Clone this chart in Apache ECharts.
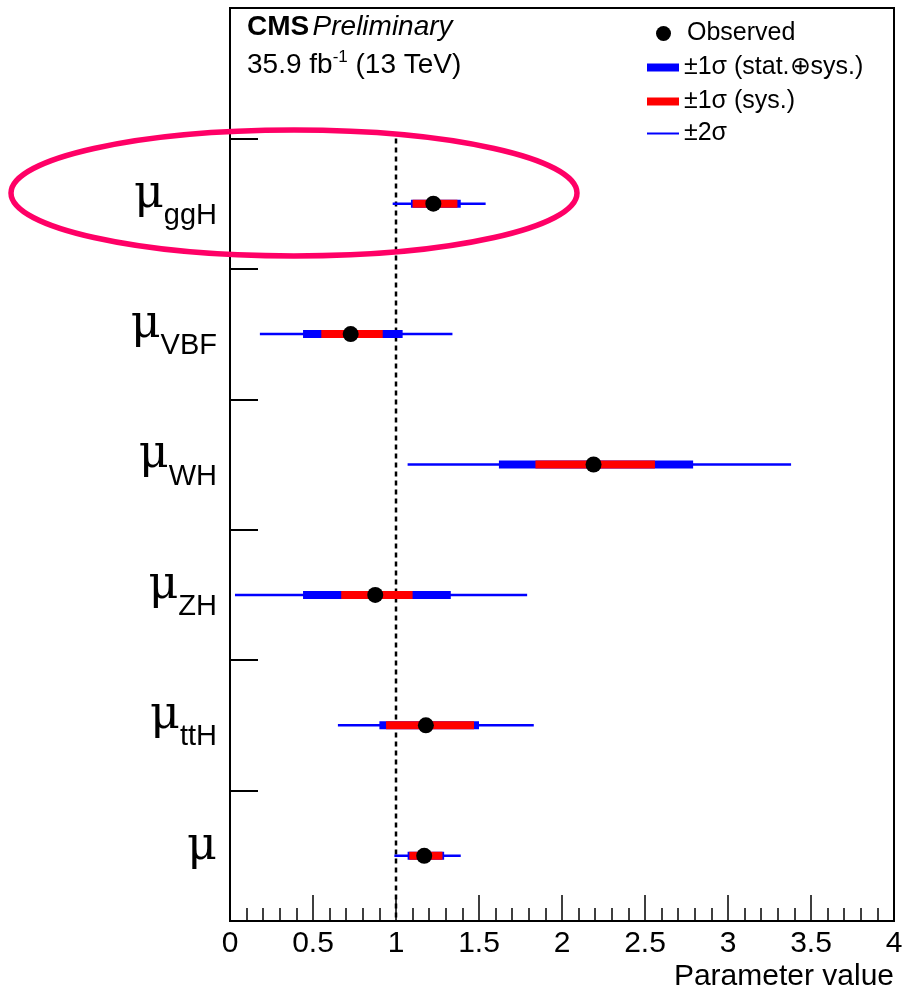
<!DOCTYPE html>
<html><head><meta charset="utf-8">
<script src="https://cdn.jsdelivr.net/npm/echarts@6/dist/echarts.min.js"></script>
<style>html,body{margin:0;padding:0;background:#fff}#c{width:904px;height:996px}</style>
</head><body><div id="c"></div>
<script>
// categories from bottom to top ('_' separates the subscript)
const categories = ['μ', 'μ_ttH', 'μ_ZH', 'μ_WH', 'μ_VBF', 'μ_ggH', ' '];
const observed   = [1.17, 1.18, 0.875, 2.19, 0.727, 1.225];
const sysLow     = [1.08, 0.94, 0.67, 1.84, 0.55, 1.10];
const sysHigh    = [1.28, 1.47, 1.10, 2.56, 0.92, 1.37];
const totLow     = [1.07, 0.90, 0.44, 1.62, 0.44, 1.09];
const totHigh    = [1.29, 1.50, 1.33, 2.79, 1.04, 1.39];
const twoLow     = [0.99, 0.65, 0.03, 1.07, 0.18, 0.98];
const twoHigh    = [1.39, 1.83, 1.79, 3.38, 1.34, 1.54];
const refValue   = 1;
const xTicks     = {min: 0, max: 4, interval: 0.5};

const FONT = 'Liberation Sans';

function bandSeries(name, lows, highs, color, thick) {
  return {
    type: 'custom', name: name,
    itemStyle: {color: color},
    data: lows.map((lo, i) => [lo, highs[i], i]),
    encode: {x: [0, 1], y: 2},
    renderItem: function (params, api) {
      const y = api.value(2);
      const p0 = api.coord([api.value(0), y]);
      const p1 = api.coord([api.value(1), y]);
      return {type: 'rect', shape: {x: p0[0], y: p0[1] - thick / 2, width: p1[0] - p0[0], height: thick},
              style: {fill: color}};
    }
  };
}

const chart = echarts.init(document.getElementById('c'), null, {renderer: 'canvas'});
chart.setOption({
  animation: false,
  backgroundColor: '#fff',
  grid: {left: 230, right: 10, top: 8, bottom: 75, show: true, borderColor: '#000', borderWidth: 2,
         containLabel: false, outerBoundsMode: 'none'},
  xAxis: {
    type: 'value', min: xTicks.min, max: xTicks.max, interval: xTicks.interval,
    axisLine: {show: true, lineStyle: {color: '#000', width: 2}},
    axisTick: {show: true, inside: true, length: 26, lineStyle: {color: '#000', width: 1.5}},
    minorTick: {show: true, splitNumber: 5, length: 13, lineStyle: {color: '#000', width: 1.5}},
    splitLine: {show: false}, minorSplitLine: {show: false},
    axisLabel: {color: '#000', fontSize: 30, fontFamily: FONT, margin: 8, showMinLabel: true, showMaxLabel: true}
  },
  yAxis: {
    type: 'category', data: categories, boundaryGap: true,
    axisLine: {show: true, lineStyle: {color: '#000', width: 2}},
    axisTick: {show: true, inside: true, length: 28, lineStyle: {color: '#000', width: 2}},
    splitLine: {show: false},
    axisLabel: {
      interval: 0, margin: 13, color: '#000',
      formatter: function (v) {
        if (v.trim() === '') return '';
        const parts = v.split('_');
        return parts.length > 1 ? '{mu|' + parts[0] + '}{sub|' + parts[1] + '}' : '{mu|' + parts[0] + '}';
      },
      rich: {
        mu: {fontFamily: 'DejaVu Serif', fontSize: 46, color: '#000', padding: [0, 0, 18, 0]},
        sub: {fontFamily: FONT, fontSize: 29, color: '#000', padding: [24, 0, 0, 0]}
      }
    }
  },
  legend: [
    {data: [{name: 'Observed', icon: 'circle'}], left: 656, top: 21, itemWidth: 15, itemHeight: 15, padding: 0,
     selectedMode: false, textStyle: {fontSize: 25, fontFamily: FONT, color: '#000', padding: [0, 0, 0, 11]}},
    {data: [{name: '±1σ (stat.⊕sys.)', icon: 'rect'}, {name: '±1σ (sys.)', icon: 'rect'}],
     orient: 'vertical', left: 647, top: 55, itemWidth: 32, itemHeight: 8, itemGap: 9, padding: 0,
     selectedMode: false, textStyle: {fontSize: 25, fontFamily: FONT, color: '#000'}},
    {data: [{name: '±2σ', icon: 'rect'}], left: 647, top: 121, itemWidth: 32, itemHeight: 2, padding: 0,
     selectedMode: false, textStyle: {fontSize: 25, fontFamily: FONT, color: '#000'}}
  ],
  series: [
    {
      type: 'custom', name: 'ref', silent: true,
      data: [[refValue, categories.length - 2, 0]],
      encode: {x: 0, y: [1, 2]},
      renderItem: function (params, api) {
        const band = api.size([0, 1])[1];
        const top = api.coord([api.value(0), api.value(1)]);
        const bot = api.coord([api.value(0), api.value(2)]);
        return {type: 'line', shape: {x1: top[0], y1: top[1] - band / 2, x2: bot[0], y2: bot[1] + band / 2},
                style: {stroke: '#000', lineWidth: 2.5, lineDash: [5, 4]}};
      }
    },
    bandSeries('±2σ', twoLow, twoHigh, '#0000ff', 2.5),
    bandSeries('±1σ (stat.⊕sys.)', totLow, totHigh, '#0000ff', 8),
    bandSeries('±1σ (sys.)', sysLow, sysHigh, '#ff0000', 8),
    {
      type: 'scatter', name: 'Observed', symbol: 'circle', symbolSize: 16,
      itemStyle: {color: '#000', opacity: 1},
      data: observed.map((v, i) => [v, i])
    }
  ],
  graphic: [
    {type: 'text', left: 247, top: 13, style: {
      text: '{b|CMS} {i|Preliminary}', fill: '#000',
      rich: {b: {fontFamily: FONT, fontWeight: 'bold', fontSize: 28, fill: '#000'},
             i: {fontFamily: FONT, fontStyle: 'italic', fontSize: 28, fill: '#000'}}}},
    {type: 'text', left: 247, top: 49, style: {
      text: '{t|35.9 fb}{s|-1}{t| (13 TeV)}', fill: '#000',
      rich: {t: {fontFamily: FONT, fontSize: 28, fill: '#000'},
             s: {fontFamily: FONT, fontSize: 17, fill: '#000', padding: [0, 0, 16, 0]}}}},
    {type: 'text', right: 10, top: 962, style: {
      text: 'Parameter value', fill: '#000', font: '30px "Liberation Sans"'}},
    {type: 'ellipse', shape: {cx: 294, cy: 193, rx: 283, ry: 63}, z: 100,
     style: {fill: 'none', stroke: '#ff0066', lineWidth: 5.5}}
  ]
});
</script></body></html>
